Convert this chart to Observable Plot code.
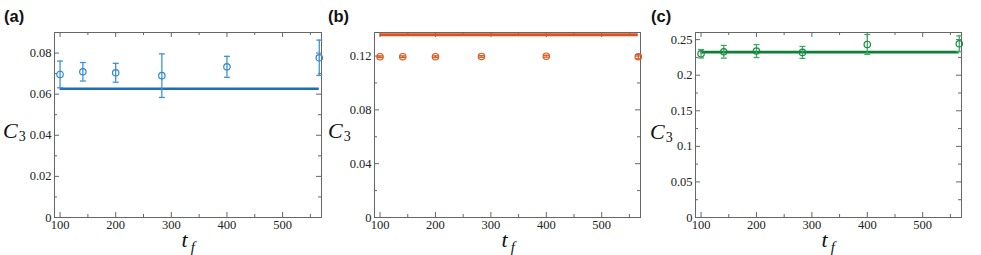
<!DOCTYPE html>
<html>
<head>
<meta charset="utf-8">
<script src="https://cdn.jsdelivr.net/npm/d3@7"></script>
<script src="https://cdn.jsdelivr.net/npm/@observablehq/plot@0.6"></script>
<style>
  html, body { margin: 0; padding: 0; background: #fff; }
  #wrap { position: relative; width: 981px; height: 255px; overflow: hidden; }
  #wrap > svg { position: absolute; top: 0; }
  #wrap svg text { font-family: "Liberation Serif", "DejaVu Serif", serif; }
  #wrap svg text.plab { font-family: "Liberation Sans", "DejaVu Sans", sans-serif; }
  #overlay { position: absolute; left: 0; top: 0; pointer-events: none; }
</style>
</head>
<body>
<div id="wrap"></div>
<script>
// ---- data ----
const tf = [100, 141, 200, 283, 400, 566];

const c3A  = [0.0696, 0.0709, 0.0704, 0.0690, 0.0733, 0.0777];
const errA = [0.0065, 0.0045, 0.0046, 0.0106, 0.0051, 0.0086];
const fitA = 0.0626;

const c3B  = [0.1195, 0.1195, 0.1195, 0.1197, 0.1199, 0.1195];
const errB = [0.0006, 0.0006, 0.0006, 0.0006, 0.0007, 0.0015];
const fitB = 0.1358;

const c3C  = [0.2301, 0.2329, 0.2339, 0.2320, 0.2432, 0.2441];
const errC = [0.0059, 0.0089, 0.0091, 0.0084, 0.0140, 0.0112];
const fitC = 0.2325;

const xMajor = [100, 200, 300, 400, 500];
const xMinor = [150, 250, 350, 450, 550];

const yMajorA = [0, 0.02, 0.04, 0.06, 0.08];
const yMinorA = [0.01, 0.03, 0.05, 0.07];
const yMajorB = [0, 0.04, 0.08, 0.12];
const yMinorB = [0.02, 0.06, 0.10];
const yMajorC = [0, 0.05, 0.1, 0.15, 0.2, 0.25];
const yMinorC = [0.025, 0.075, 0.125, 0.175, 0.225];

const fitRange = [100, 566];

// ---- drawing ----
const SERIF = "Liberation Serif";
const cap = { draw(ctx) { ctx.moveTo(-3, 0); ctx.lineTo(3, 0); } };
const fmt = d => d === 0 ? "0" : String(+d.toFixed(3));

function panel({left, width, ml, mr, yDomain, yMajor, yMinor, vals, errs, fit, color, errColor, lineColor, lineWidth}) {
  const H = 255, mt = 32, mb = 38;
  const ih = H - mt - mb, iw = width - ml - mr;
  const data = tf.map((t, i) => ({t, v: vals[i], lo: vals[i] - errs[i], hi: vals[i] + errs[i]}));
  const frameC = "#666";
  const svg = Plot.plot({
    width, height: H,
    marginLeft: ml, marginRight: mr, marginTop: mt, marginBottom: mb,
    x: {domain: [90, 570]},
    y: {domain: yDomain},
    style: {fontFamily: SERIF, fontSize: "12.5px", color: "#222", background: "transparent", overflow: "visible"},
    marks: [
      Plot.frame({stroke: frameC, strokeWidth: 1}),
      Plot.tickX(xMajor, {x: d => d, insetTop: ih - 5, stroke: frameC}),
      Plot.tickX(xMajor, {x: d => d, insetBottom: ih - 5, stroke: frameC}),
      Plot.tickX(xMinor, {x: d => d, insetTop: ih - 3, stroke: frameC}),
      Plot.tickX(xMinor, {x: d => d, insetBottom: ih - 3, stroke: frameC}),
      Plot.tickY(yMajor, {y: d => d, insetRight: iw - 5, stroke: frameC}),
      Plot.tickY(yMajor, {y: d => d, insetLeft: iw - 5, stroke: frameC}),
      Plot.tickY(yMinor, {y: d => d, insetRight: iw - 3, stroke: frameC}),
      Plot.tickY(yMinor, {y: d => d, insetLeft: iw - 3, stroke: frameC}),
      Plot.axisX({ticks: xMajor, tickSize: 0, tickPadding: 2.5, label: null, fontFamily: SERIF, fontSize: 12.5, tickFormat: d => String(d)}),
      Plot.axisY({ticks: yMajor, tickSize: 0, tickPadding: 3, label: null, fontFamily: SERIF, fontSize: 12.5, tickFormat: fmt}),
      Plot.ruleY([fit], {x1: fitRange[0], x2: fitRange[1], stroke: lineColor, strokeWidth: lineWidth}),
      Plot.ruleX(data, {x: "t", y1: "lo", y2: "hi", stroke: errColor, strokeWidth: 1.3}),
      Plot.dot(data, {x: "t", y: "hi", symbol: cap, fill: "none", stroke: errColor, strokeWidth: 1.3}),
      Plot.dot(data, {x: "t", y: "lo", symbol: cap, fill: "none", stroke: errColor, strokeWidth: 1.3}),
      Plot.dot(data, {x: "t", y: "v", r: 3.2, fill: "none", stroke: color, strokeWidth: 1.2})
    ]
  });
  svg.style.left = left + "px";
  return svg;
}

const wrap = document.getElementById("wrap");
wrap.appendChild(panel({left: 0, width: 330, ml: 54, mr: 9, yDomain: [0, 0.09], yMajor: yMajorA, yMinor: yMinorA,
  vals: c3A, errs: errA, fit: fitA, color: "#2f86d2", errColor: "#3f93d8", lineColor: "#1b6dbd", lineWidth: 2.6}));
wrap.appendChild(panel({left: 330, width: 320, ml: 44, mr: 10, yDomain: [0, 0.1375], yMajor: yMajorB, yMinor: yMinorB,
  vals: c3B, errs: errB, fit: fitB, color: "#e2581f", errColor: "#e2581f", lineColor: "#e0501a", lineWidth: 3}));
wrap.appendChild(panel({left: 650, width: 331, ml: 45, mr: 20, yDomain: [0, 0.26], yMajor: yMajorC, yMinor: yMinorC,
  vals: c3C, errs: errC, fit: fitC, color: "#1a8a44", errColor: "#3fa865", lineColor: "#0e7f37", lineWidth: 2.8}));

// ---- labels (real text) ----
const NS = "http://www.w3.org/2000/svg";
const ov = document.createElementNS(NS, "svg");
ov.setAttribute("id", "overlay");
ov.setAttribute("width", 981);
ov.setAttribute("height", 255);
wrap.appendChild(ov);
const sel = d3.select(ov);

const panelLabels = [["(a)", 4], ["(b)", 328], ["(c)", 651]];
panelLabels.forEach(([t, x]) => {
  sel.append("text").attr("class", "plab").attr("x", x).attr("y", 21.5)
    .attr("font-weight", "bold").attr("font-size", 16.5).attr("fill", "#111").text(t);
});

const yLab = [[3, 137.7], [328, 138.3], [650, 139]];
yLab.forEach(([x, y]) => {
  const t = sel.append("text").attr("x", x).attr("y", y)
    .attr("font-size", 22).attr("fill", "#111");
  t.append("tspan").attr("font-style", "italic").text("C");
  t.append("tspan").attr("font-size", 14).attr("dy", 3).attr("dx", 1).text("3");
});

const xLab = [[181.5, 246.5], [501.5, 246.5], [821.5, 246.5]];
xLab.forEach(([x, y]) => {
  const t = sel.append("text").attr("x", x).attr("y", y)
    .attr("font-size", 22).attr("fill", "#111").attr("font-style", "italic");
  t.append("tspan").text("t");
  t.append("tspan").attr("font-size", 15).attr("dy", 5).attr("dx", 3).text("f");
});
</script>
</body>
</html>
